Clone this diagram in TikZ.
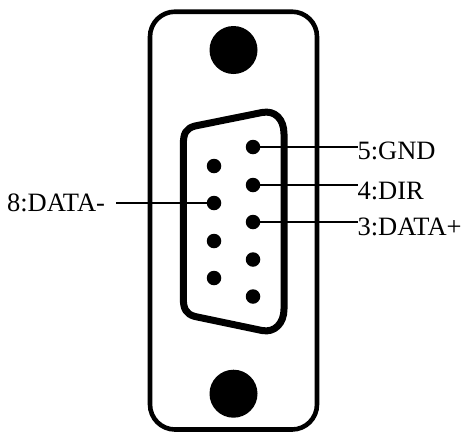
\documentclass[tikz,border=0pt]{standalone}
\usepackage{fontspec}
\setmainfont{Liberation Serif}
\tikzset{
  pin/.style={circle,fill=black,draw=none,inner sep=0pt,minimum size=14.5bp},
  hole/.style={circle,fill=black,draw=none,inner sep=0pt,minimum size=48bp},
  lbl/.style={inner sep=0pt,outer sep=0pt,font=\fontsize{26.5bp}{26.5bp}\selectfont,anchor=base west},
  wire/.style={line width=1.6bp,black},
  plate/.style={line width=4.6bp,black,rounded corners=25bp},
  shell/.style={line width=7bp,black,line join=round}
}
\begin{document}
\begin{tikzpicture}[x=1bp,y=-1bp]
\useasboundingbox (0,0) rectangle (466,431);
\draw[plate] (150,11.7) rectangle (317,429.5);
\node[hole] (h1) at (233.5,50) {};
\node[hole] (h2) at (233.5,393.7) {};
\draw[shell] (183.3,145) .. controls (183.3,133) and (186,128.5) .. (195,126)
  -- (262,112.5) .. controls (275,110) and (284,119) .. (284,134)
  -- (284,309) .. controls (284,323) and (275,333) .. (262,330.5)
  -- (195,316.5) .. controls (186,314) and (183.3,309) .. (183.3,298) -- cycle;
\node[pin] (p5) at (253,147) {};
\node[pin] (p4) at (253,185) {};
\node[pin] (p3) at (253,222) {};
\node[pin] (p2) at (253,259.5) {};
\node[pin] (p1) at (253,296.5) {};
\node[pin] (p9) at (214,166) {};
\node[pin] (p8) at (214,203) {};
\node[pin] (p7) at (214,241) {};
\node[pin] (p6) at (214,278) {};
\node[lbl] (l5) at (357.5,159) {5:GND};
\node[lbl] (l4) at (357.5,199.5) {4:DIR};
\node[lbl] (l3) at (357.5,235.5) {3:DATA+};
\node[lbl] (l8) at (7,211) {8:DATA-};
\coordinate (e8) at (116,203);
\draw[wire] (p5.center) -- (p5.center -| l5.west);
\draw[wire] (p4.center) -- (p4.center -| l4.west);
\draw[wire] (p3.center) -- (p3.center -| l3.west);
\draw[wire] (p8.center) -- (e8);
\end{tikzpicture}
\end{document}
